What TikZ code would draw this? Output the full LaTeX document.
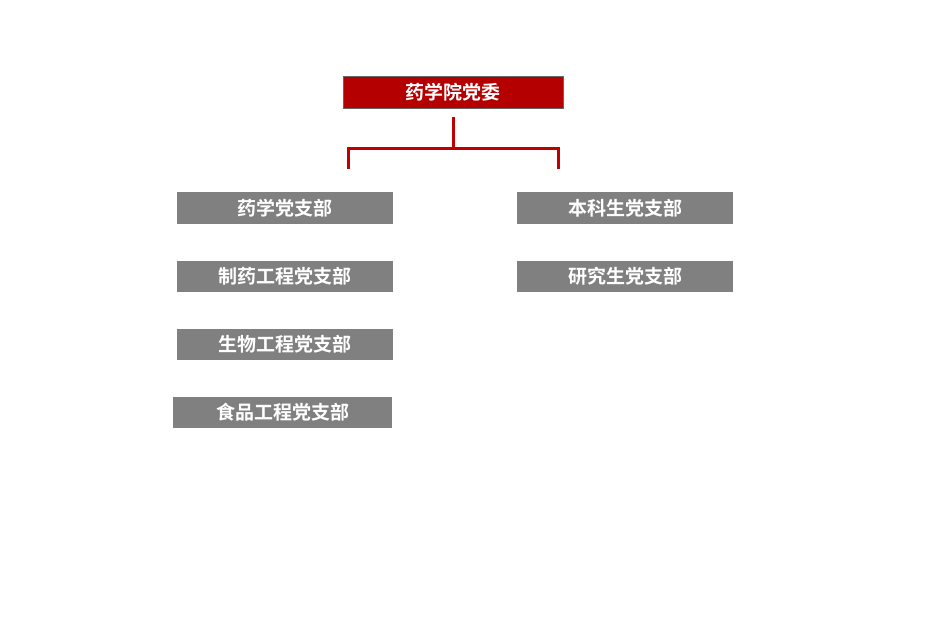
\documentclass[tikz,border=0pt]{standalone}
\usepackage{fontspec}
\newfontfamily\cjk{Noto Sans CJK SC Bold}
\definecolor{topred}{HTML}{B40000}
\definecolor{boxgray}{HTML}{808080}
\definecolor{linered}{HTML}{C00000}
\begin{document}
\begin{tikzpicture}[x=1pt,y=-1pt,
  topbox/.style={draw=gray!80!black,line width=0.8pt,fill=topred,text=white,font=\cjk\fontsize{19}{21}\selectfont,inner sep=0pt},
  subbox/.style={fill=boxgray,text=white,font=\cjk\fontsize{19}{21}\selectfont,inner sep=0pt},
  conn/.style={draw=linered,line width=3pt}]
\useasboundingbox (0,0) rectangle (937,638);
\node[topbox,minimum width=220pt,minimum height=32pt] (top) at (453,92) {药学院党委};
\node[subbox,minimum width=216pt,minimum height=32pt] (l1) at (285,208) {药学党支部};
\node[subbox,minimum width=216pt,minimum height=31pt] (l2) at (285,276.5) {制药工程党支部};
\node[subbox,minimum width=216pt,minimum height=31pt] (l3) at (285,344.5) {生物工程党支部};
\node[subbox,minimum width=219pt,minimum height=31pt] (l4) at (282.5,412.5) {食品工程党支部};
\node[subbox,minimum width=216pt,minimum height=32pt] (r1) at (625,208) {本科生党支部};
\node[subbox,minimum width=216pt,minimum height=31pt] (r2) at (625,276.5) {研究生党支部};
\coordinate (c0) at (453,117);
\coordinate (c1) at (453,148);
\coordinate (cl) at (348,169);
\coordinate (cr) at (558,169);
\draw[conn] (c0) -- (c1);
\draw[conn] (cl) |- (c1) -| (cr);
\end{tikzpicture}
\end{document}
